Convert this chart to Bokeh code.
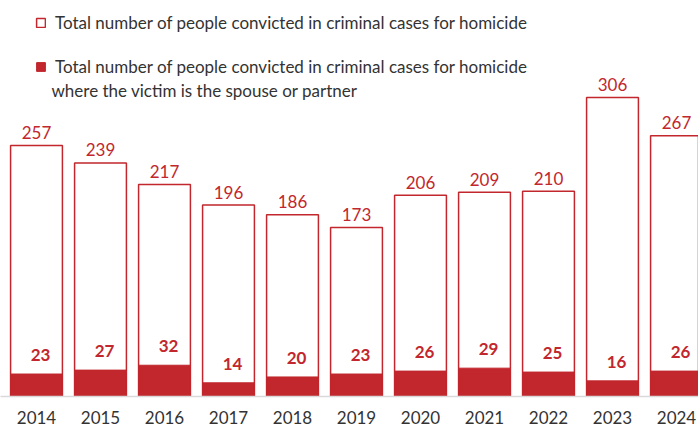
from bokeh.plotting import figure
from bokeh.models import ColumnDataSource, Legend, LegendItem, FixedTicker, Range1d, Label
from bokeh.core.properties import value
from bokeh.embed import file_html
from bokeh.resources import INLINE

years = ["2014", "2015", "2016", "2017", "2018", "2019", "2020", "2021", "2022", "2023", "2024"]
total_convicted = [257, 239, 217, 196, 186, 173, 206, 209, 210, 306, 267]
spouse_partner = [23, 27, 32, 14, 20, 23, 26, 29, 25, 16, 26]

legend_total = "Total number of people convicted in criminal cases for homicide"
legend_spouse_1 = "Total number of people convicted in criminal cases for homicide"
legend_spouse_2 = "where the victim is the spouse or partner"

RED = "#C1272D"
FONT = "Lato"

xs = list(range(len(years)))
src = ColumnDataSource(dict(
    x=xs,
    total=total_convicted,
    spouse=spouse_partner,
    total_lbl=[str(v) for v in total_convicted],
    spouse_lbl=[str(v) for v in spouse_partner],
))

W, H = 698, 427
BOTTOM = 31
FRAME_H = H - BOTTOM
PX_PER_UNIT = 0.977
p = figure(width=W, height=H, output_backend="svg", toolbar_location=None,
           x_range=Range1d(-36 / 64, -36 / 64 + W / 64),
           y_range=Range1d(0, FRAME_H / PX_PER_UNIT),
           min_border_left=0, min_border_right=0, min_border_top=0, min_border_bottom=BOTTOM)
p.outline_line_color = None
p.grid.grid_line_color = None
p.yaxis.visible = False

r_total = p.vbar(x="x", top="total", width=0.81, source=src,
                 fill_color="white", line_color=RED, line_width=1.5)
r_sp = p.vbar(x="x", top="spouse", width=0.81, source=src,
              fill_color=RED, line_color=RED, line_width=1)

p.text(x="x", y="total", text="total_lbl", source=src, text_align="center",
       text_baseline="middle", y_offset=-13, text_color=RED,
       text_font=value(FONT), text_font_size="17px")
p.text(x="x", y="spouse", text="spouse_lbl", source=src, text_align="center",
       text_baseline="middle", y_offset=-19, x_offset=4, text_color=RED,
       text_font=value(FONT), text_font_size="17px", text_font_style="bold")

ax = p.xaxis[0]
ax.ticker = FixedTicker(ticks=xs)
ax.major_label_overrides = {i: y for i, y in enumerate(years)}
ax.major_tick_line_color = None
ax.major_tick_out = 0
ax.major_tick_in = 0
ax.minor_tick_line_color = None
ax.minor_tick_out = 0
ax.axis_line_color = "#D9D9D9"
ax.axis_line_width = 1.5
ax.major_label_text_font = FONT
ax.major_label_text_font_size = "17px"
ax.major_label_text_color = "#333333"
ax.major_label_standoff = 14

legend = Legend(items=[
    LegendItem(label=legend_total, renderers=[r_total]),
    LegendItem(label=legend_spouse_1, renderers=[r_sp]),
], location=(35, FRAME_H - 77), orientation="vertical",
    glyph_width=11, glyph_height=11, label_height=22, label_standoff=9, spacing=22,
    padding=0, margin=0, border_line_alpha=0, background_fill_alpha=0,
    label_text_font=FONT, label_text_font_size="17px", label_text_color="#333333")
p.add_layout(legend, "center")

p.add_layout(Label(x=51, y=FRAME_H - 90, x_units="screen", y_units="screen",
                   text=legend_spouse_2, text_baseline="middle",
                   text_font=FONT, text_font_size="17px", text_color="#333333"))

open("out.html", "w").write(file_html(p, INLINE))
